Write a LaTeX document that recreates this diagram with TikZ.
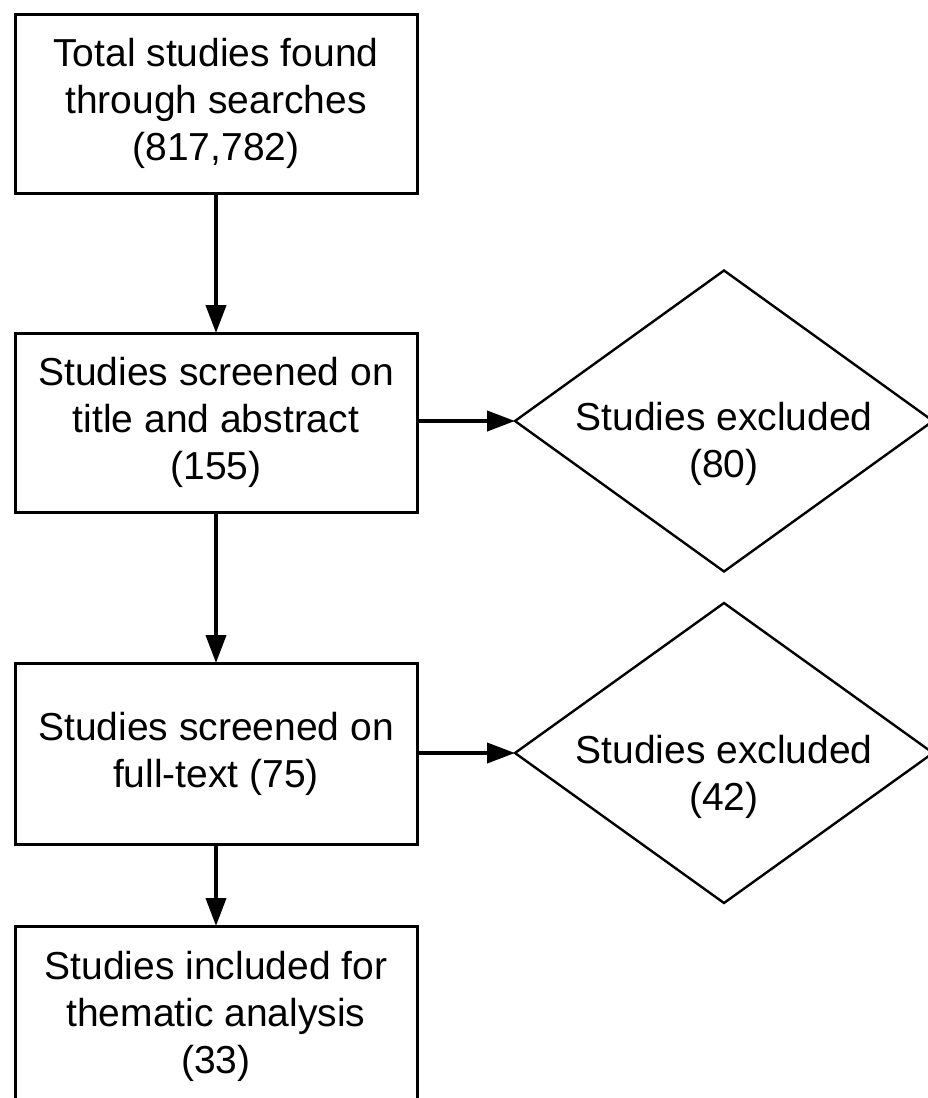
\documentclass[tikz,border=0pt]{standalone}
\usepackage{fontspec}
\setmainfont{Liberation Sans}
\usetikzlibrary{shapes.geometric,arrows.meta}
\begin{document}
\begin{tikzpicture}[x=1pt,y=-1pt,
  every node/.style={font=\fontsize{39pt}{47pt}\selectfont, text=black},
  stepbox/.style={draw, line width=3pt, rectangle, minimum width=402pt, inner sep=0pt, outer sep=0pt, align=center},
  decbox/.style={draw, line width=2.4pt, diamond, minimum width=418pt, minimum height=301pt, inner sep=0pt, outer sep=0pt},
  conn/.style={line width=4pt, -{Triangle[length=28pt,width=20pt]}}]
\useasboundingbox (0,0) rectangle (928,1098);
\clip (0,0) rectangle (928,1098);
\fill[white] (0,0) rectangle (928,1098);
\node[stepbox, minimum height=179pt] (b1) at (216,103.5) {Total studies found\\through searches\\(817,782)};
\node[stepbox, minimum height=179pt] (b2) at (216,422.5) {Studies screened on\\title and abstract\\(155)};
\node[stepbox, minimum height=181pt] (b3) at (216,753.5) {Studies screened on\\full-text (75)};
\node[stepbox, minimum height=180pt] (b4) at (216,1016) {Studies included for\\thematic analysis\\(33)};
\node[decbox] (d1) at (724,421) {};
\node[decbox, minimum height=300pt] (d2) at (724,753) {};
\node[align=center, inner sep=0pt] (t1) at (724,444) {Studies excluded\\(80)};
\node[align=center, inner sep=0pt] (t2) at (724,777) {Studies excluded\\(42)};
\draw[conn] (b1.south) -- (b2.north);
\draw[conn] (b2.south) -- (b3.north);
\draw[conn] (b3.south) -- (b4.north);
\draw[conn] (b2.east |- d1.west) -- (d1.west);
\draw[conn] (b3.east |- d2.west) -- (d2.west);
\end{tikzpicture}
\end{document}
